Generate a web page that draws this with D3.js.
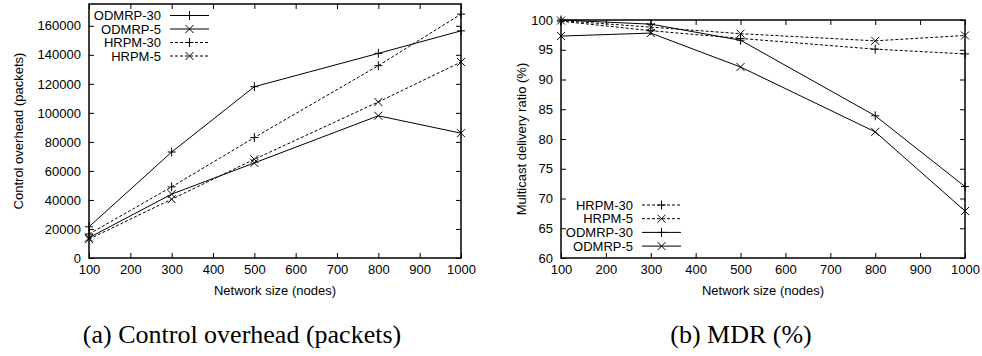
<!DOCTYPE html>
<html>
<head>
<meta charset="utf-8">
<script src="https://cdn.jsdelivr.net/npm/d3@7"></script>
<style>
  body { margin: 0; background: #fff; }
  text { font-family: "Liberation Sans", Arial, sans-serif; font-size: 13px; fill: #000; }
  .caption { font-family: "Liberation Serif", "Times New Roman", serif; font-size: 26px; }
</style>
</head>
<body>
<svg id="fig" width="982" height="356"></svg>
<script>
// network sizes (x values shared by both panels)
var networkSizes = [100, 300, 500, 800, 1000];
var xTickValues = [100, 200, 300, 400, 500, 600, 700, 800, 900, 1000];

// (a) control overhead, packets
var overheadODMRP30 = [21500, 73000, 118000, 141000, 156500];
var overheadODMRP5  = [14000, 44000, 65500, 98000, 86000];
var overheadHRPM30  = [16500, 49000, 83000, 132500, 168000];
var overheadHRPM5   = [13000, 40500, 68000, 107500, 135000];
var overheadTicks = [0, 20000, 40000, 60000, 80000, 100000, 120000, 140000, 160000];

// (b) multicast delivery ratio, %
var mdrHRPM30  = [99.8, 98.2, 96.9, 95.1, 94.3];
var mdrHRPM5   = [99.9, 98.8, 97.7, 96.5, 97.4];
var mdrODMRP30 = [100, 99.3, 96.6, 83.9, 72.0];
var mdrODMRP5  = [97.3, 97.8, 92.1, 81.2, 67.9];
var mdrTicks = [60, 65, 70, 75, 80, 85, 90, 95, 100];

// line style per protocol
var lineStyles = {
  "ODMRP-30": { dash: null, marker: "plus" },
  "ODMRP-5":  { dash: null, marker: "cross" },
  "HRPM-30":  { dash: "3,2", marker: "plus" },
  "HRPM-5":   { dash: "3,2", marker: "cross" }
};

var markerPaths = {
  plus: "M-4,0H4M0,-4.5V4.5",
  cross: "M-4,-4L4,4M-4,4L4,-4"
};

var svg = d3.select("#fig");

function drawPanel(opts) {
  var g = svg.append("g");
  var x = d3.scaleLinear().domain([100, 1000]).range([opts.left, opts.right]);
  var y = d3.scaleLinear().domain(opts.yDomain).range([opts.bottom, opts.top]);

  // axes, ticks pointing inwards like gnuplot
  var axB = g.append("g").attr("transform", "translate(0," + opts.bottom + ")")
    .call(d3.axisBottom(x).tickValues(xTickValues).tickSizeInner(-5).tickSizeOuter(0).tickPadding(7).tickFormat(d3.format("d")));
  var axT = g.append("g").attr("transform", "translate(0," + opts.top + ")")
    .call(d3.axisTop(x).tickValues(xTickValues).tickSizeInner(-5).tickSizeOuter(0).tickFormat(""));
  var axL = g.append("g").attr("transform", "translate(" + opts.left + ",0)")
    .call(d3.axisLeft(y).tickValues(opts.yTicks).tickSizeInner(-5).tickSizeOuter(0).tickPadding(8).tickFormat(d3.format("d")));
  var axR = g.append("g").attr("transform", "translate(" + opts.right + ",0)")
    .call(d3.axisRight(y).tickValues(opts.yTicks).tickSizeInner(-5).tickSizeOuter(0).tickFormat(""));
  [axB, axT, axL, axR].forEach(function(a) {
    a.select(".domain").remove();
    a.selectAll("line").attr("stroke", "#000");
    a.selectAll("text").attr("font-family", null).attr("font-size", null).style("font-size", "13px");
  });

  // border
  g.append("rect")
    .attr("x", opts.left).attr("y", opts.top)
    .attr("width", opts.right - opts.left).attr("height", opts.bottom - opts.top)
    .attr("fill", "none").attr("stroke", "#000").attr("stroke-width", 1.5);

  // axis titles
  g.append("text")
    .attr("x", (opts.left + opts.right) / 2).attr("y", 295)
    .attr("text-anchor", "middle").text("Network size (nodes)");
  g.append("text")
    .attr("transform", "translate(" + opts.yTitleX + "," + (opts.top + opts.bottom) / 2 + ") rotate(-90)")
    .attr("text-anchor", "middle").attr("dy", "0.35em").text(opts.yTitle);

  var line = d3.line().x(function(d) { return x(d[0]); }).y(function(d) { return y(d[1]); });

  opts.series.forEach(function(s, i) {
    var st = lineStyles[s.name];
    var pts = d3.zip(networkSizes, s.values);
    g.append("path").datum(pts)
      .attr("d", line).attr("fill", "none").attr("stroke", "#000")
      .attr("stroke-width", 1).attr("stroke-dasharray", st.dash);
    g.selectAll(null).data(pts).enter().append("path")
      .attr("transform", function(d) { return "translate(" + x(d[0]) + "," + y(d[1]) + ")"; })
      .attr("d", markerPaths[st.marker]).attr("stroke", "#000").attr("fill", "none");

    // legend row
    var ly = opts.legendY + i * opts.legendStep;
    g.append("text").attr("x", opts.legendX).attr("y", ly).attr("dy", "0.35em")
      .attr("text-anchor", "end").text(s.name);
    g.append("line")
      .attr("x1", opts.legendX + 9).attr("x2", opts.legendX + 48)
      .attr("y1", ly).attr("y2", ly)
      .attr("stroke", "#000").attr("stroke-dasharray", st.dash);
    g.append("path").attr("transform", "translate(" + (opts.legendX + 28.5) + "," + ly + ")")
      .attr("d", markerPaths[st.marker]).attr("stroke", "#000").attr("fill", "none");
  });

  svg.append("text").attr("class", "caption")
    .attr("x", opts.captionX).attr("y", 343).attr("text-anchor", "middle")
    .text(opts.caption);
}

drawPanel({
  left: 89, right: 461, top: 4, bottom: 258,
  yDomain: [0, 175000], yTicks: overheadTicks,
  yTitle: "Control overhead (packets)", yTitleX: 18,
  series: [
    { name: "ODMRP-30", values: overheadODMRP30 },
    { name: "ODMRP-5", values: overheadODMRP5 },
    { name: "HRPM-30", values: overheadHRPM30 },
    { name: "HRPM-5", values: overheadHRPM5 }
  ],
  legendX: 161, legendY: 15.5, legendStep: 13.5,
  caption: "(a) Control overhead (packets)", captionX: 242
});

drawPanel({
  left: 561, right: 965, top: 20, bottom: 258,
  yDomain: [60, 100], yTicks: mdrTicks,
  yTitle: "Multicast delivery ratio (%)", yTitleX: 521,
  series: [
    { name: "HRPM-30", values: mdrHRPM30 },
    { name: "HRPM-5", values: mdrHRPM5 },
    { name: "ODMRP-30", values: mdrODMRP30 },
    { name: "ODMRP-5", values: mdrODMRP5 }
  ],
  legendX: 633, legendY: 205, legendStep: 13.7,
  caption: "(b) MDR (%)", captionX: 741
});
</script>
</body>
</html>
